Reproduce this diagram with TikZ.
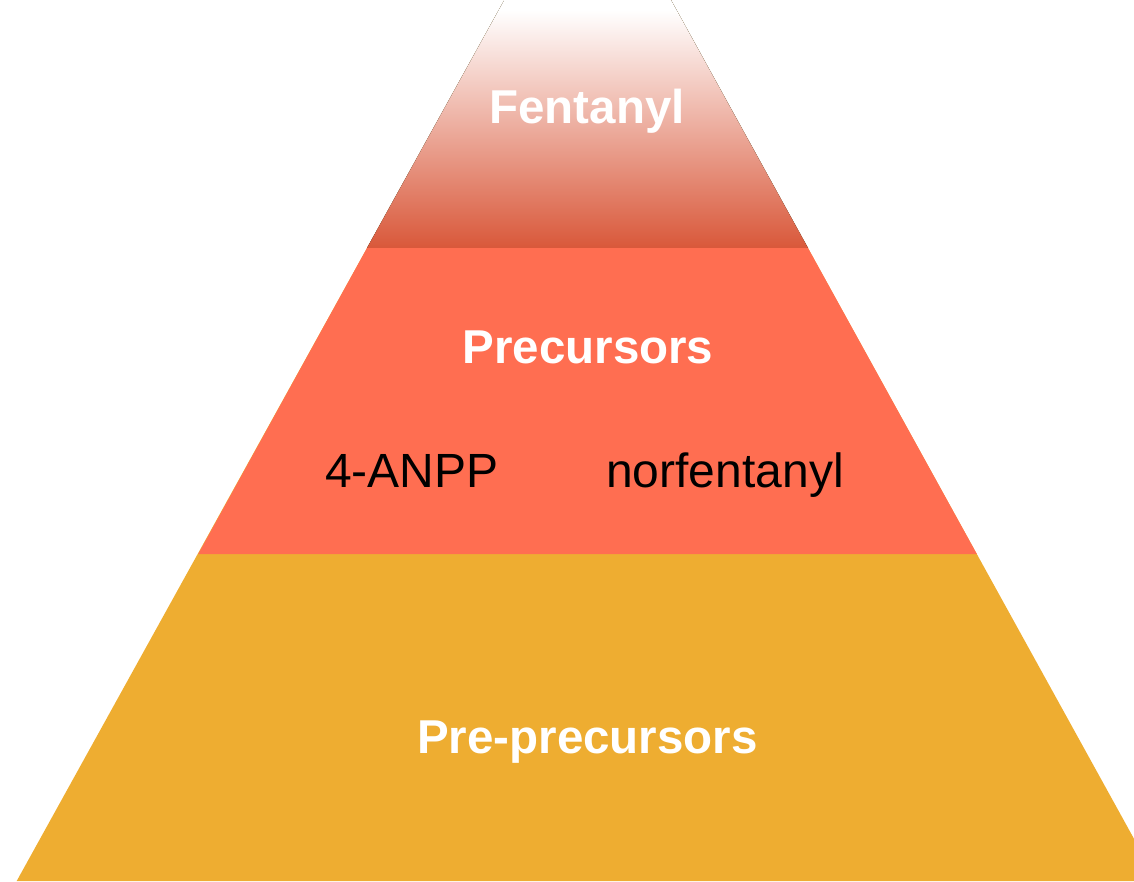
\documentclass[tikz,border=0pt]{standalone}
\usepackage{fontspec}
\setmainfont{Liberation Sans}
\usepackage{tikz}
\usetikzlibrary{positioning}
\definecolor{pyrtop}{HTML}{D9583A}
\definecolor{pyrmid}{HTML}{FF6E51}
\definecolor{pyrbase}{HTML}{EEAD31}
\pgfdeclareverticalshading{topfade}{100bp}{color(0bp)=(pyrtop); color(25bp)=(pyrtop);
  color(73bp)=(white); color(100bp)=(white)}
\tikzset{
  tierlabel/.style={text=white, inner sep=0pt, anchor=base,
                    font=\fontsize{47.5}{57}\selectfont\bfseries},
  itemlabel/.style={text=black, inner sep=0pt, anchor=base,
                    font=\fontsize{48}{58}\selectfont}
}

\begin{document}
\begin{tikzpicture}[x=1pt, y=-1pt]
    \useasboundingbox (0,0) rectangle (1134,882);
    \clip (0,0) rectangle (1134,882);
    % tiers, bottom to top
    \fill[pyrbase] (16.7,881) -- (504.3,0) -- (671,0) -- (1157.3,881) -- cycle;
    \fill[pyrmid] (198.3,554) -- (367,248) -- (808,248) -- (976.8,554) -- cycle;
    \fill[shading=topfade] (367,248) -- (504.3,0) -- (671,0) -- (808,248) -- cycle;
    % labels
    \node[tierlabel] (fentanyl) at (587,124) {Fentanyl};
    \node[tierlabel] (precursors) at (588,363) {Precursors};
    \node[itemlabel] (anpp) at (412,487) {4-ANPP};
    \node[itemlabel] (norfentanyl) at (725,487) {norfentanyl};
    \node[tierlabel] (preprecursors) at (587.5,753) {Pre-precursors};
  \end{tikzpicture}
\end{document}
